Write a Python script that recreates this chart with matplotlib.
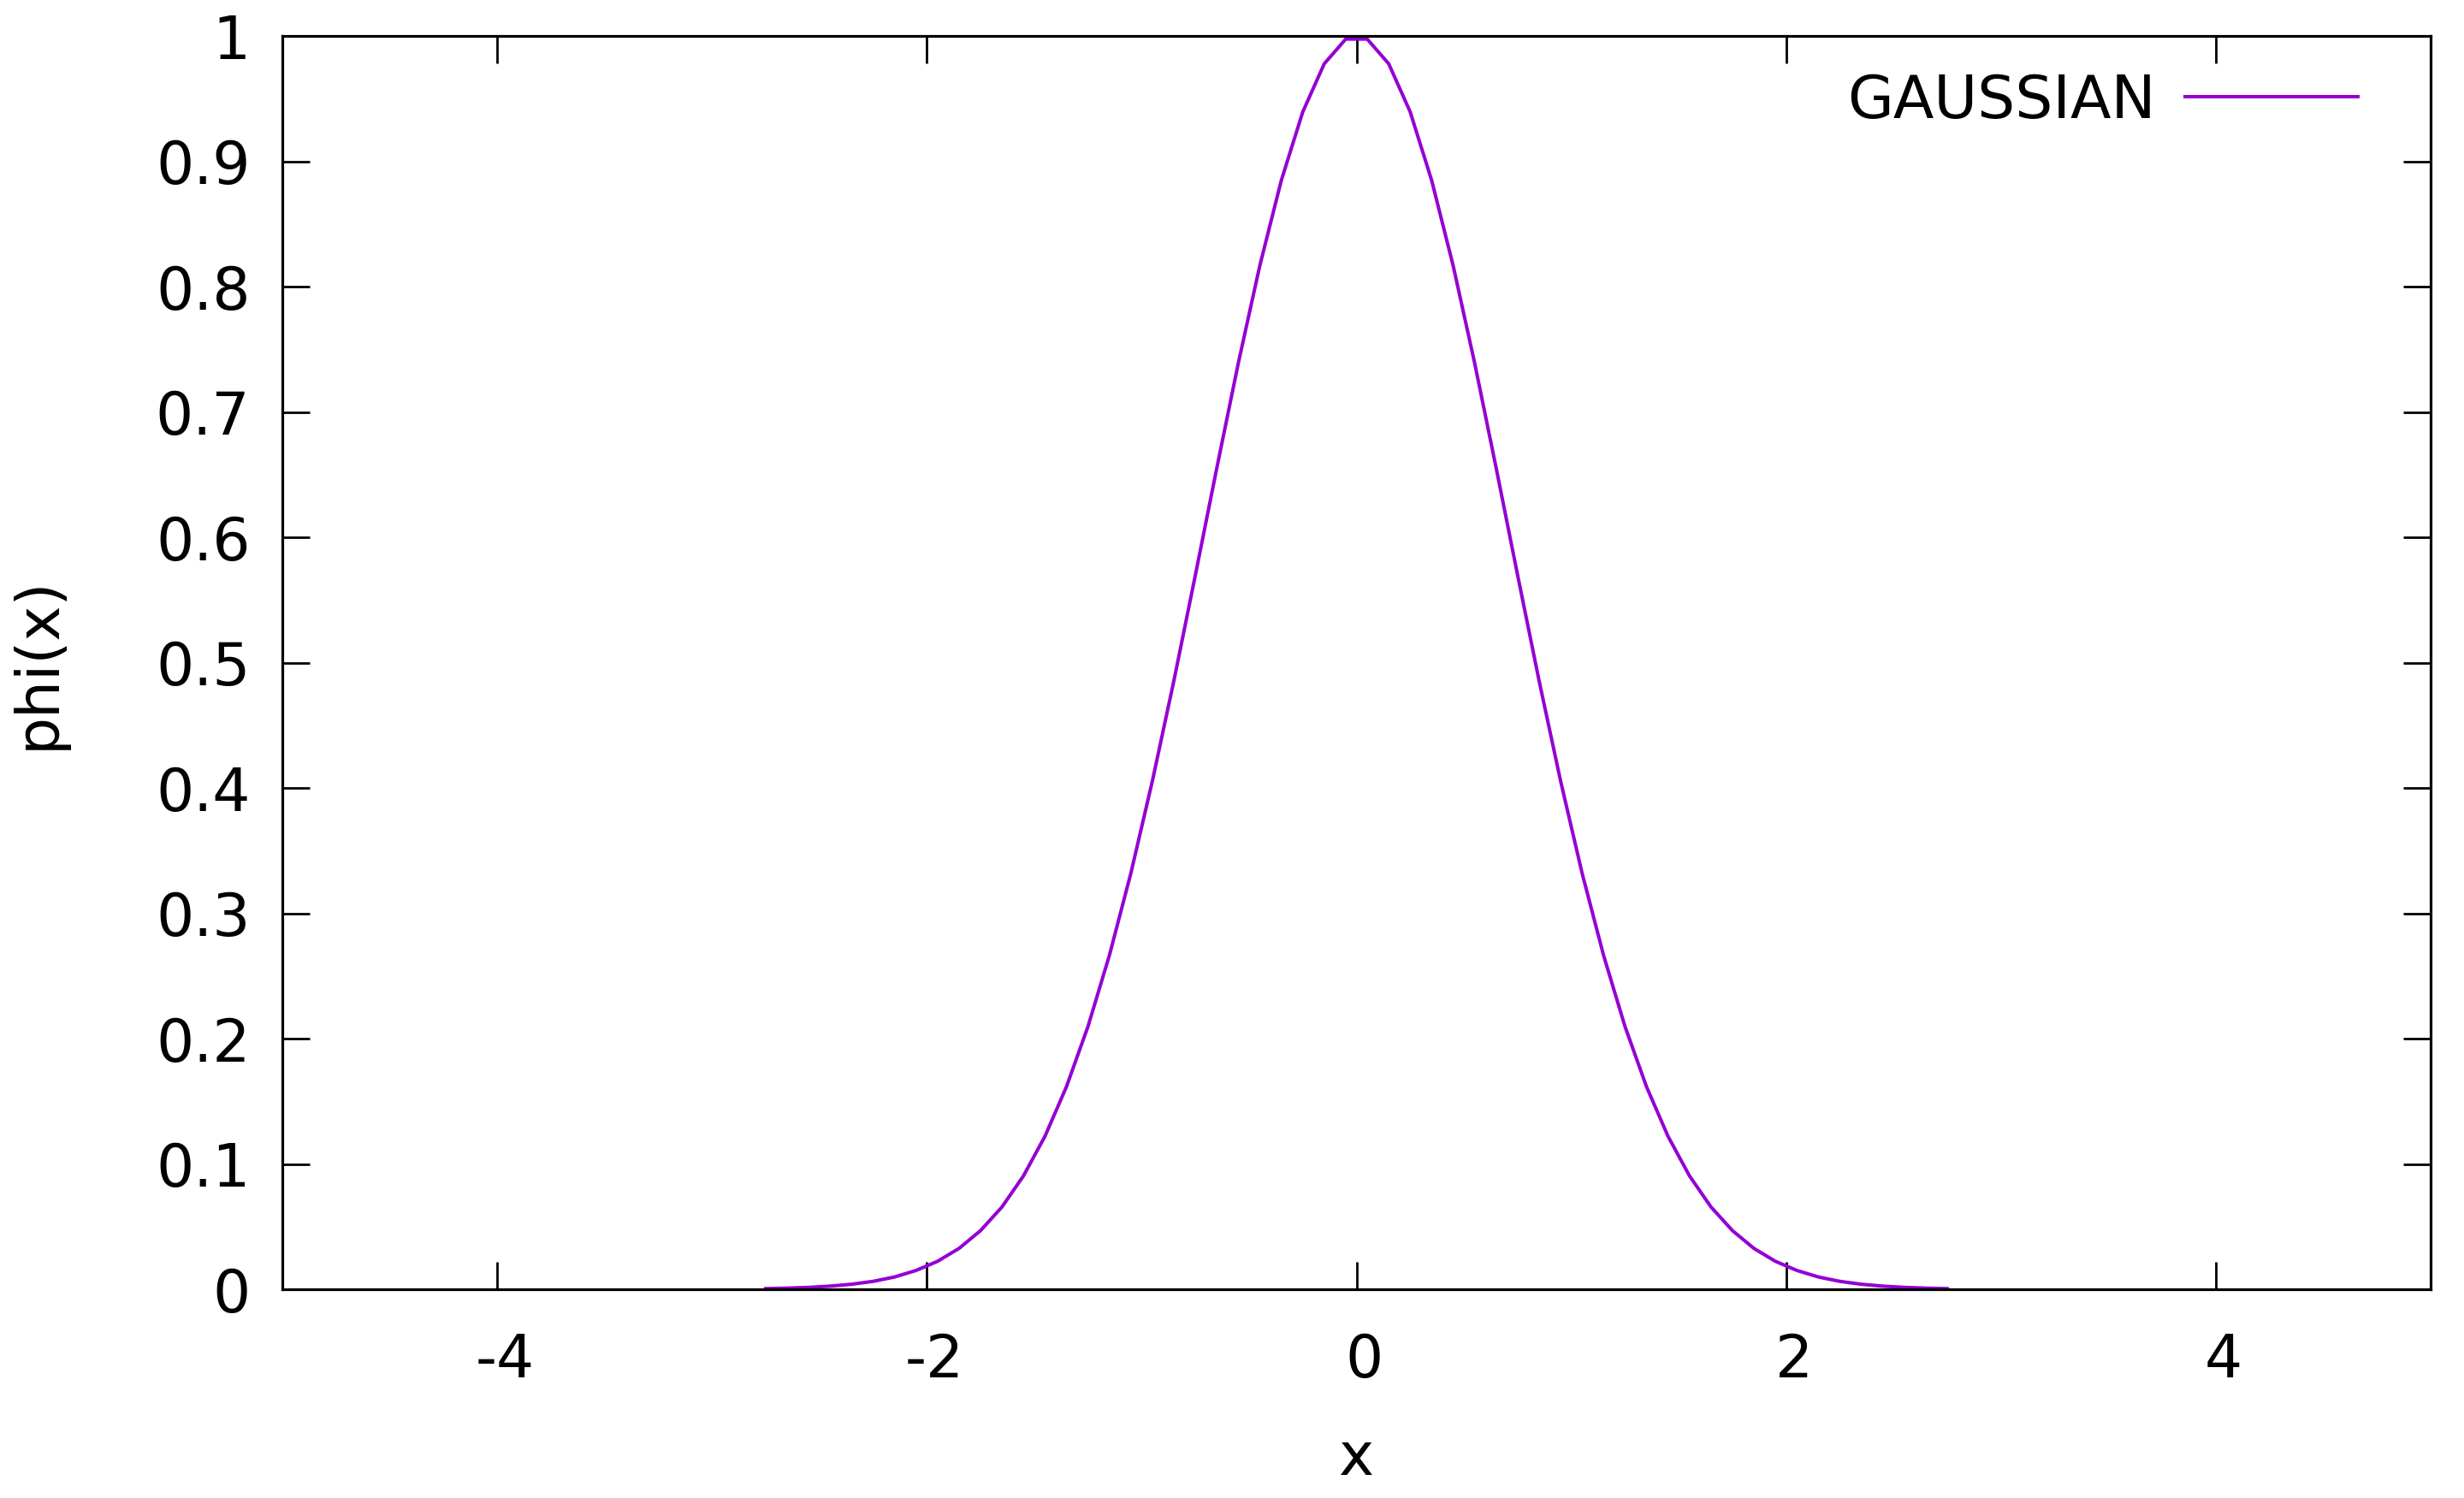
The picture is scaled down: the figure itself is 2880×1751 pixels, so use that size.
import numpy as np
import matplotlib
matplotlib.use("Agg")
import matplotlib.pyplot as plt
import matplotlib.transforms as mtransforms
from matplotlib.ticker import FuncFormatter

x_vals = [-2.75, -2.65, -2.55, -2.45, -2.35, -2.25, -2.15, -2.05, -1.95, -1.85,
          -1.75, -1.65, -1.55, -1.45, -1.35, -1.25, -1.15, -1.05, -0.95, -0.85,
          -0.75, -0.65, -0.55, -0.45, -0.35, -0.25, -0.15, -0.05,
          0.05, 0.15, 0.25, 0.35, 0.45, 0.55, 0.65, 0.75, 0.85, 0.95,
          1.05, 1.15, 1.25, 1.35, 1.45, 1.55, 1.65, 1.75, 1.85, 1.95,
          2.05, 2.15, 2.25, 2.35, 2.45, 2.55, 2.65, 2.75]
phi_vals = [0.0005, 0.0009, 0.0015, 0.0025, 0.0040, 0.0063, 0.0098, 0.0150, 0.0223, 0.0326,
            0.0468, 0.0657, 0.0905, 0.1221, 0.1616, 0.2096, 0.2665, 0.3321, 0.4056, 0.4855,
            0.5698, 0.6554, 0.7390, 0.8167, 0.8847, 0.9394, 0.9778, 0.9975,
            0.9975, 0.9778, 0.9394, 0.8847, 0.8167, 0.7390, 0.6554, 0.5698, 0.4855, 0.4056,
            0.3321, 0.2665, 0.2096, 0.1616, 0.1221, 0.0905, 0.0657, 0.0468, 0.0326, 0.0223,
            0.0150, 0.0098, 0.0063, 0.0040, 0.0025, 0.0015, 0.0009, 0.0005]
x_ticks = [-4, -2, 0, 2, 4]
y_ticks = [0, 0.1, 0.2, 0.3, 0.4, 0.5, 0.6, 0.7, 0.8, 0.9, 1]

plt.rcParams['font.family'] = ['DejaVu Sans']
plt.rcParams['axes.unicode_minus'] = False

fig = plt.figure(figsize=(28.8, 17.51), dpi=100)
ax = fig.add_axes([330 / 2880, 1 - 1507 / 1751, (2841 - 330) / 2880, (1507 - 42) / 1751])

ax.plot(x_vals, phi_vals, color="#9400D3", linewidth=2.9, label="GAUSSIAN")

ax.set_xlim(-5, 5)
ax.set_ylim(0, 1)
ax.set_xticks(x_ticks)
ax.set_yticks(y_ticks)
ax.yaxis.set_major_formatter(FuncFormatter(lambda v, p: "%g" % v))

for s in ax.spines.values():
    s.set_linewidth(2.3)
ax.tick_params(direction="in", length=23, width=2.0, labelsize=50,
               top=True, right=True)
ax.tick_params(axis="x", pad=36)
ax.tick_params(axis="y", pad=27)

# gnuplot puts the x tick labels a touch right of the ticks
shift = mtransforms.ScaledTranslation(9 / 100, 0, fig.dpi_scale_trans)
for lab in ax.get_xticklabels():
    lab.set_transform(lab.get_transform() + shift)

ax.set_xlabel("x", fontsize=50, labelpad=34)
ax.set_ylabel("phi(x)", fontsize=50, labelpad=75)

ax.legend(loc="center right", bbox_to_anchor=(0.966, 0.948), frameon=False,
          markerfirst=False, fontsize=50, handlelength=2.9, handletextpad=0.5,
          borderpad=0, borderaxespad=0)

fig.savefig("out.png", dpi=100)
